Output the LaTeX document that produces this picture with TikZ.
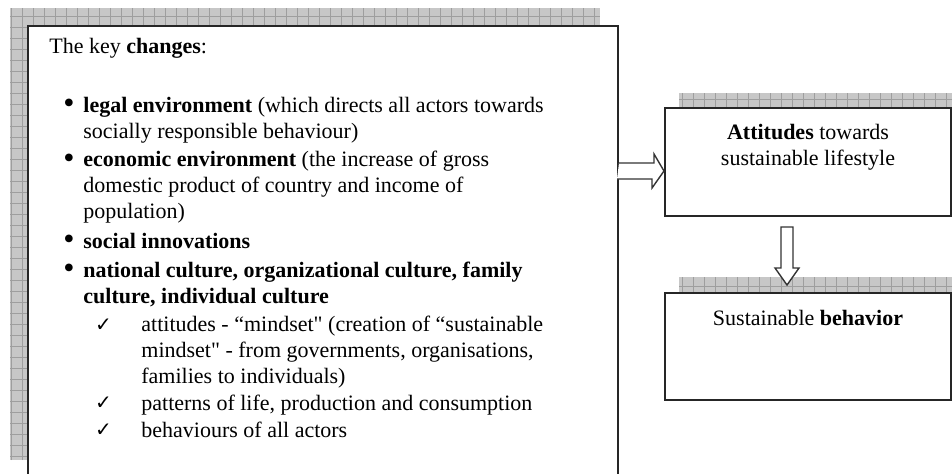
\documentclass[tikz,border=0pt]{standalone}
\usepackage{fontspec}
\setmainfont{Liberation Serif}
\newfontfamily\tickfont{DejaVu Sans}
\usepackage{tikz}

\begin{document}
\begin{tikzpicture}[x=0.5pt,y=0.5pt]
    \tikzset{Box/.style={%
        shape=rectangle,%
        draw=black!85,%
        fill=white,%
        line width=1pt,%
        inner sep=0pt,%
        anchor=north west,%
    }}
    \tikzset{Shadow/.style={fill=black!22}}
    \tikzset{ShadowGrid/.style={draw=black!38, line width=0.3pt, step=11}}
    \tikzset{BlockArrow/.style={draw=black!80, fill=white, line width=0.7pt, line join=miter}}
    \tikzset{Txt/.style={font=\fontsize{11}{13}\selectfont, inner sep=0pt, anchor=base west, align=left}}
    \tikzset{Bullet/.style={font=\fontsize{16}{16}\selectfont, inner sep=0pt, anchor=base}}
    \tikzset{Tick/.style={font=\tickfont\fontsize{10}{10}\selectfont, inner sep=0pt, anchor=base}}

    \useasboundingbox (0,0) rectangle (952,-473);
    \clip (0,0) rectangle (952,-473);

    % shadows
    \fill[Shadow] (10,-460) rectangle (600,-8);
    \draw[ShadowGrid, yshift=-2.5pt] (10,-455) grid (600,-3);
    \fill[Shadow] (679,-201) rectangle (965,-93);
    \draw[ShadowGrid] (679,-201) grid (965,-93);
    \fill[Shadow] (679,-385) rectangle (965,-277);
    \draw[ShadowGrid] (679,-385) grid (965,-277);

    % boxes
    \node[Box, minimum width=295pt, minimum height=226pt] (main) at (27,-25) {};
    \node[Box, minimum width=143pt, minimum height=54pt] (att) at (664,-107) {};
    \node[Box, minimum width=143pt, minimum height=53.5pt] (beh) at (664,-292) {};

    % list in the main box (base = last line)
    \node[Txt] (title) at (49,-53) {The key \textbf{changes}:};
    \node[Txt] (legal) at (83,-138) {\textbf{legal environment} (which directs all actors towards\\socially responsible behaviour)};
    \node[Txt] (econ) at (83,-218) {\textbf{economic environment} (the increase of gross\\domestic product of country and income of\\population)};
    \node[Txt] (social) at (83,-248) {\textbf{social innovations}};
    \node[Txt] (culture) at (83,-303) {\textbf{national culture, organizational culture, family}\\\textbf{culture, individual culture}};
    \node[Txt] (mind) at (141,-383) {attitudes - “mindset\textquotedbl{} (creation of “sustainable\\mindset\textquotedbl{} - from governments, organisations,\\families to individuals)};
    \node[Txt] (patterns) at (141,-410) {patterns of life, production and consumption};
    \node[Txt] (actors) at (141,-437) {behaviours of all actors};

    \node[Bullet] (b1) at (69,-113) {\textbullet};
    \node[Bullet] (b2) at (69,-168) {\textbullet};
    \node[Bullet] (b3) at (69,-249) {\textbullet};
    \node[Bullet] (b4) at (69,-278) {\textbullet};
    \node[Tick] (t1) at (103.5,-331) {✓};
    \node[Tick] (t2) at (103.5,-409) {✓};
    \node[Tick] (t3) at (103.5,-436) {✓};

    % right boxes
    \node[Txt, anchor=base, align=center] (attText) at ([yshift=-29pt]att.north) {\textbf{Attitudes} towards\\sustainable lifestyle};
    \node[Txt, anchor=base] (behText) at ([yshift=-16.5pt]beh.north) {Sustainable \textbf{behavior}};

    % arrows
    \coordinate (tipA) at (att.west |- 0,-171);
    \draw[BlockArrow] (main.east |- 0,-163) -- ++(35,0) -- ++(0,9) -- (tipA) -- ++(-12,-17) -- ++(0,9) -- ++(-35,0);
    \coordinate (tipB) at (787,-285);
    \draw[BlockArrow] (tipB) -- ++(12,17) -- ++(-6,0) -- ++(0,41) -- ++(-12,0) -- ++(0,-41) -- ++(-6,0) -- cycle;
\end{tikzpicture}
\end{document}
